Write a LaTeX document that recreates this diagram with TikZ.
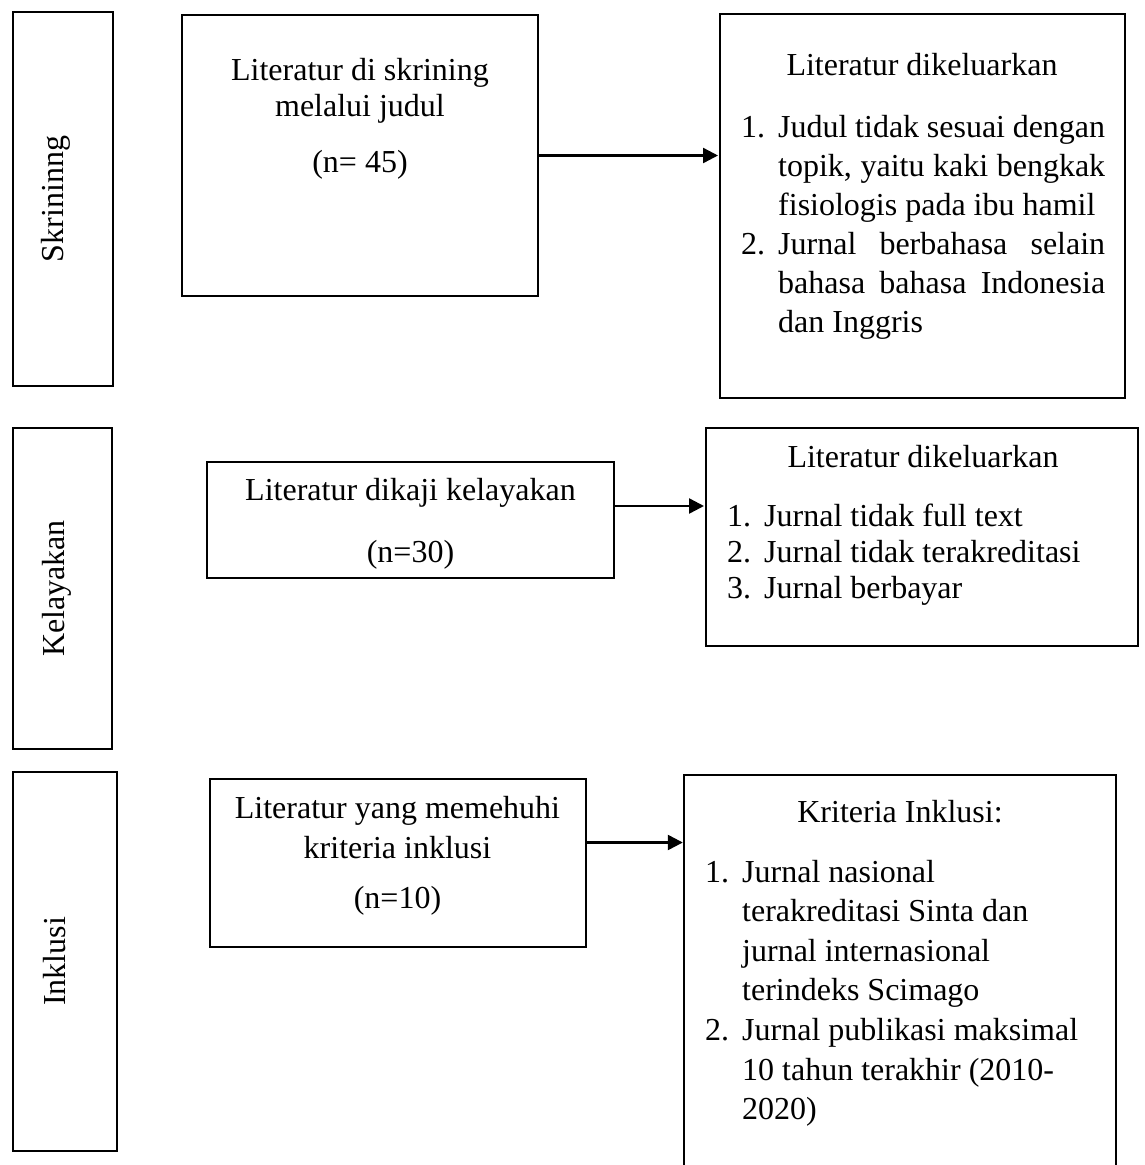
\documentclass[tikz,border=0pt]{standalone}
\usepackage{fontspec}
\setmainfont{Liberation Serif}
\usetikzlibrary{arrows.meta}
\begin{document}
\begin{tikzpicture}[x=1pt,y=-1pt,
  box/.style={draw, line width=2pt, inner sep=0pt},
  sidelbl/.style={inner sep=0pt, rotate=90, anchor=base, font=\fontsize{32}{39}\selectfont},
  txt/.style={inner sep=0pt, font=\fontsize{32}{39}\selectfont},
  arr/.style={line width=2.4pt, -{Triangle[length=15pt,width=15pt]}, shorten >=1pt}]
\useasboundingbox (0,0) rectangle (1145,1165);
% side boxes
\node[box, minimum width=100pt, minimum height=374pt] (s1) at (63,199) {};
\node[box, minimum width=99pt, minimum height=321pt] (s2) at (62.5,588.5) {};
\node[box, minimum width=104pt, minimum height=379pt] (s3) at (65,961.5) {};
\node[sidelbl] (s1t) at (63,199) {Skrininng};
\node[sidelbl] (s2t) at (64,588.5) {Kelayakan};
\node[sidelbl] (s3t) at (65,961.5) {Inklusi};
% main boxes
\node[box, minimum width=356pt, minimum height=281pt] (b1) at (360,155.5) {};
\node[box, minimum width=405pt, minimum height=384pt] (b2) at (922.5,206) {};
\node[box, minimum width=407pt, minimum height=116pt] (b3) at (410.5,520) {};
\node[box, minimum width=432pt, minimum height=218pt] (b4) at (922,537) {};
\node[box, minimum width=376pt, minimum height=168pt] (b5) at (397.5,862.5) {};
\node[inner sep=0pt, minimum width=432pt, minimum height=400pt, anchor=north] (b6) at (900,775) {};
\draw[line width=2pt] (b6.south west) -- (b6.north west) -- (b6.north east) -- (b6.south east);
% texts in left boxes
\node[txt, anchor=base] (b1t) at (360,80) {\parbox[t]{340pt}{\fontsize{32}{36}\selectfont\centering Literatur di skrining\\melalui judul\\[20pt](n= 45)}};
\node[txt, anchor=base] (b3t) at (410.5,500) {\parbox[t]{390pt}{\fontsize{32}{39}\selectfont\centering Literatur dikaji kelayakan\\[23pt](n=30)}};
\node[txt, anchor=base] (b5t) at (397.5,818) {\parbox[t]{370pt}{\fontsize{32}{40}\selectfont\centering Literatur yang memehuhi\\kriteria inklusi\\[10pt](n=10)}};
% right box texts
\node[txt, anchor=base] (b2h) at (922,75) {Literatur dikeluarkan};
\node[txt, anchor=base west] (b2l) at (741,137) {\parbox[t]{380pt}{\fontsize{32}{39}\selectfont
\makebox[37pt][l]{1.}\makebox[327pt][s]{Judul tidak sesuai dengan}\\
\hspace*{37pt}\makebox[327pt][s]{topik, yaitu kaki bengkak}\\
\hspace*{37pt}fisiologis pada ibu hamil\\
\makebox[37pt][l]{2.}\makebox[327pt][s]{Jurnal berbahasa selain}\\
\hspace*{37pt}\makebox[327pt][s]{bahasa bahasa Indonesia}\\
\hspace*{37pt}dan Inggris}};
\node[txt, anchor=base] (b4h) at (923,467) {Literatur dikeluarkan};
\node[txt, anchor=base west] (b4l) at (727,526) {\parbox[t]{400pt}{\fontsize{32}{36}\selectfont
\makebox[37pt][l]{1.}Jurnal tidak full text\\
\makebox[37pt][l]{2.}Jurnal tidak terakreditasi\\
\makebox[37pt][l]{3.}Jurnal berbayar}};
\node[txt, anchor=base] (b6h) at (900,822) {Kriteria Inklusi:};
\node[txt, anchor=base west] (b6l) at (705,882) {\parbox[t]{400pt}{\fontsize{32}{39.6}\selectfont
\makebox[37pt][l]{1.}Jurnal nasional\\
\hspace*{37pt}terakreditasi Sinta dan\\
\hspace*{37pt}jurnal internasional\\
\hspace*{37pt}terindeks Scimago\\
\makebox[37pt][l]{2.}Jurnal publikasi maksimal\\
\hspace*{37pt}10 tahun terakhir (2010-\\
\hspace*{37pt}2020)}};
% connectors
\draw[arr] (b1.east) -- (b1.east -| b2.west);
\draw[arr] ([yshift=14pt]b3.east) -- ([yshift=14pt]b3.east -| b4.west);
\draw[arr] ([yshift=20pt]b5.east) -- ([yshift=20pt]b5.east -| b6.west);
\end{tikzpicture}
\end{document}
